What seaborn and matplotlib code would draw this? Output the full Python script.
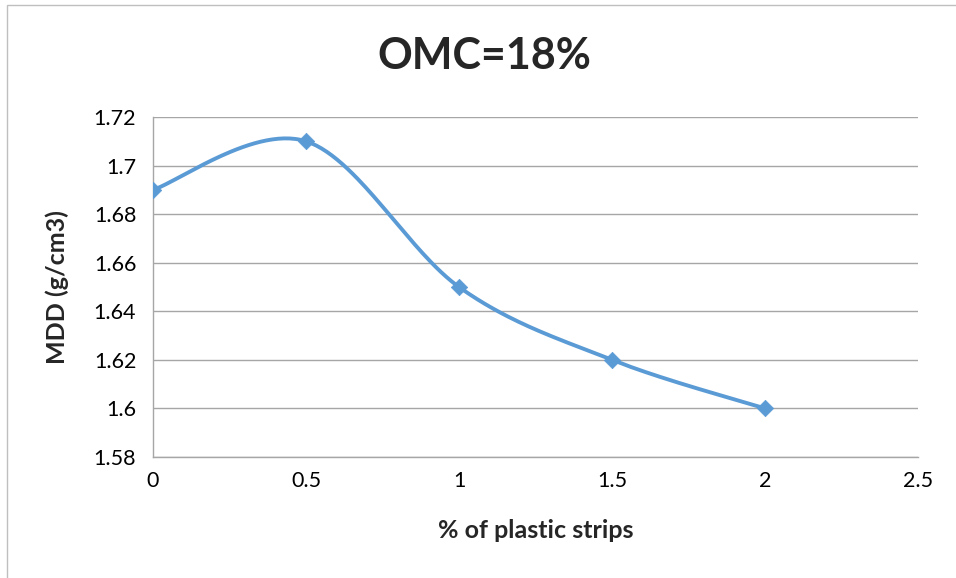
import numpy as np
import matplotlib
matplotlib.use("Agg")
import matplotlib.pyplot as plt
import seaborn as sns
from matplotlib.patches import Rectangle

# Data
plastic_pct = [0, 0.5, 1, 1.5, 2]
mdd = [1.69, 1.71, 1.65, 1.62, 1.60]
x_ticks = [0, 0.5, 1, 1.5, 2, 2.5]
y_ticks = [1.58, 1.60, 1.62, 1.64, 1.66, 1.68, 1.70, 1.72]
y_tick_labels = ["1.58", "1.6", "1.62", "1.64", "1.66", "1.68", "1.7", "1.72"]

LINE_COLOR = "#5B9BD5"
GRID_COLOR = "#A6A6A6"


def smooth_curve(xs, ys, n=60):
    """Cubic Bezier smoothing through the points (spreadsheet-style)."""
    pts = np.column_stack([xs, ys]).astype(float)
    out = []
    for i in range(len(pts) - 1):
        p0 = pts[i - 1] if i > 0 else pts[i]
        p1 = pts[i]
        p2 = pts[i + 1]
        p3 = pts[i + 2] if i + 2 < len(pts) else pts[i + 1]
        c1 = p1 + (p2 - p0) / 6.0
        c2 = p2 - (p3 - p1) / 6.0
        t = np.linspace(0, 1, n)[:, None]
        seg = ((1 - t) ** 3) * p1 + 3 * ((1 - t) ** 2) * t * c1 \
            + 3 * (1 - t) * t ** 2 * c2 + t ** 3 * p2
        out.append(seg if i == 0 else seg[1:])
    seg = np.vstack(out)
    return seg[:, 0], seg[:, 1]


sns.set_theme(style="white")
plt.rcParams["font.family"] = ["Lato", "DejaVu Sans"]

fig = plt.figure(figsize=(9.56, 5.78), dpi=100)
ax = fig.add_axes([0.16, 0.2093, 0.8003, 0.5883])

# Chart area border
fig.patches.append(Rectangle((7 / 956, -0.1), 1.2, 1 - 5 / 578 + 0.1,
                             transform=fig.transFigure, fill=False,
                             edgecolor="#BFBFBF", linewidth=1.0))

sx, sy = smooth_curve(plastic_pct, mdd)
sns.lineplot(x=sx, y=sy, sort=False, ax=ax, color=LINE_COLOR,
             linewidth=2.8, estimator=None)
sns.scatterplot(x=plastic_pct, y=mdd, ax=ax, marker="D", s=70,
                color=LINE_COLOR, edgecolor=LINE_COLOR, linewidth=0.5,
                zorder=3)

ax.set_xlim(0, 2.5)
ax.set_ylim(1.58, 1.72)
ax.set_xticks(x_ticks)
ax.set_xticklabels([f"{v:g}" for v in x_ticks])
ax.set_yticks(y_ticks)
ax.set_yticklabels(y_tick_labels)
ax.tick_params(axis="both", length=0, labelsize=15.5, colors="black")
ax.tick_params(axis="y", pad=12)
ax.tick_params(axis="x", pad=10)

ax.yaxis.grid(True, color=GRID_COLOR, linewidth=1.0)
ax.xaxis.grid(False)
for side in ["top", "right"]:
    ax.spines[side].set_visible(False)
for side in ["left", "bottom"]:
    ax.spines[side].set_color(GRID_COLOR)
    ax.spines[side].set_linewidth(1.0)

ax.set_xlabel("% of plastic strips", fontsize=18, fontweight="bold",
              labelpad=20)
ax.set_ylabel("MDD (g/cm3)", fontsize=18, fontweight="bold", labelpad=18)
fig.text(0.507, 0.903, "OMC=18%", ha="center", va="center",
         fontsize=31, fontweight="bold")

fig.savefig("out.png", dpi=100, facecolor="white")
